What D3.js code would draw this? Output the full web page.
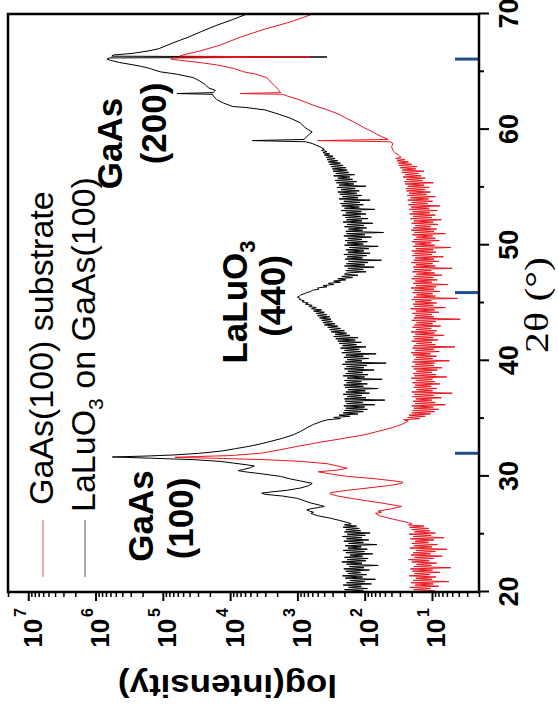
<!DOCTYPE html>
<html><head><meta charset="utf-8">
<script src="https://cdn.jsdelivr.net/npm/d3@7/dist/d3.min.js"></script>
<style>body{margin:0;background:#fff}</style>
</head><body>
<svg id="chart" width="558" height="715"></svg>
<script>
// ---------------- DATA (2θ in degrees, values are log10(intensity)) ----------------
const xMajorTicks = [20, 30, 40, 50, 60, 70];
const xMinorTicks = [25, 35, 45, 55, 65];
const yExponents = [1, 2, 3, 4, 5, 6, 7];
const seriesNames = ["GaAs(100) substrate", "LaLuO3 on GaAs(100)"];
const markerAngles = [32.0, 45.9, 66.1];

// sampling grid of the noisy stretches: start angle of each band, 0.1° step
const bandStep = 0.1;
const bandStarts = { blackA: 20.0, blackB: 34.9, blackC: 43.1, blackD: 47.6, redA: 20.0, redB: 34.9 };

// LaLuO3 on GaAs(100)  (black)
const blackBandA = [2.26,2.02,2.30,1.96,2.24,2.05,2.32,1.90,2.27,2.00,
2.22,1.84,2.29,2.03,2.33,1.97,2.25,2.06,2.28,1.93,
2.31,2.01,2.23,1.80,2.27,2.04,2.34,1.98,2.26,1.95,
2.30,2.03,2.22,1.88,2.28,2.00,2.32,1.96,2.25,2.05,
2.29,1.82,2.24,2.02,2.31,1.94,2.27,2.04,2.33,1.99,
2.26,1.92,2.30,2.06,2.28,2.08,2.32,2.12,2.30];
const blackPeaks1 = [[25.9,2.20],[26.0,2.25],[26.2,2.38],[26.4,2.52],[26.6,2.70],[26.8,2.80],[26.9,2.76],[27.0,2.82],[27.1,2.86],[27.2,2.80],[27.3,2.70],[27.4,2.60],[27.5,2.66],[27.7,2.80],[27.9,2.90],[28.1,3.00],[28.3,3.22],[28.45,3.48],[28.55,3.53],[28.65,3.40],[28.8,3.15],[29.0,2.95],[29.2,2.83],[29.4,2.78],[29.6,2.95],[29.8,3.12],[30.0,3.25],[30.2,3.50],[30.4,3.78],[30.5,3.88],[30.6,3.80],[30.75,3.70],[30.9,3.64],[31.0,3.75],[31.15,3.95],[31.3,4.15],[31.45,4.55],[31.58,5.20],[31.68,5.75],[31.76,5.25],[31.85,4.85],[32.0,4.45],[32.2,4.12],[32.4,3.92],[32.6,3.72],[32.8,3.56],[33.0,3.42],[33.3,3.22],[33.6,3.06],[33.9,2.95],[34.2,2.86],[34.5,2.76],[34.8,2.62]];
const blackBandB = [2.55,2.36,2.46,2.22,2.38,2.10,2.32,2.02,2.30,1.96,
2.28,2.00,2.31,1.85,2.27,2.03,2.29,1.70,2.30,1.98,
2.26,2.04,2.32,1.93,2.28,1.99,2.25,1.80,2.29,2.02,
2.31,1.96,2.27,2.05,2.30,1.74,2.26,2.00,2.32,1.95,
2.28,2.03,2.25,1.86,2.30,2.01,2.27,1.97,2.33,1.68,
2.29,2.04,2.26,1.94,2.31,2.02,2.28,1.83,2.34,2.06,
2.30,2.08,2.36,1.98,2.33,2.12,2.38,2.05,2.40,2.14,
2.43,2.10,2.46,2.22,2.44,2.27,2.50,2.30,2.52,2.36,
2.55,2.40];
const blackBandC = [2.60,2.44,2.62,2.48,2.64,2.50,2.67,2.52,2.70,2.56,
2.72,2.60,2.76,2.64,2.79,2.72,2.83,2.78,2.88,2.84,
2.93,2.90,2.97,2.96,3.00,2.97,2.95,2.90,2.86,2.80,
2.78,2.68,2.70,2.56,2.62,2.46,2.54,2.36,2.46,2.28,
2.40,2.18,2.34,2.10,2.30];
const blackBandD = [2.26,1.98,2.28,2.02,2.25,1.86,2.30,2.00,2.27,1.95,
2.24,1.75,2.29,2.03,2.26,1.97,2.31,1.92,2.25,2.01,
2.28,1.94,2.23,1.80,2.30,2.02,2.26,1.96,2.29,2.04,
2.25,1.90,2.31,2.00,2.27,1.72,2.28,2.03,2.24,1.97,
2.30,2.01,2.26,1.88,2.32,2.04,2.27,1.95,2.29,2.06,
2.33,1.98,2.28,2.05,2.35,1.85,2.30,2.08,2.34,2.02,
2.36,2.07,2.31,1.92,2.38,2.10,2.33,2.04,2.37,2.12,
2.40,2.08,2.35,2.14,2.41,1.98,2.38,2.16,2.42,2.12,
2.44,2.18,2.40,2.22,2.46,2.15,2.43,2.24,2.47,2.26,
2.48,2.28,2.50,2.32,2.52,2.36,2.54,2.40,2.56,2.44,
2.57,2.47,2.60,2.52,2.62,2.56,2.64,2.60];
const blackPeaks2 = [[58.5,2.66],[58.8,2.78],[58.95,2.88],[59.05,3.67],[59.15,2.90],[59.3,2.88],[59.6,2.82],[59.8,2.78],[60.0,2.84],[60.2,2.89],[60.6,2.96],[61.0,3.11],[61.3,3.26],[61.7,3.48],[61.9,3.75],[62.0,3.96],[62.3,4.10],[62.6,4.20],[62.9,4.25],[63.05,4.26],[63.12,4.79],[63.2,4.25],[63.4,4.22],[63.6,4.32],[63.9,4.37],[64.2,4.45],[64.5,4.55],[64.8,4.80],[65.0,5.04],[65.3,5.20],[65.5,5.34],[65.8,5.64],[66.0,5.78],[66.1,5.83],[66.2,5.80],[66.28,2.56],[66.35,5.76],[66.45,5.74],[66.6,5.44],[66.8,5.22],[67.0,5.06],[67.5,4.85],[68.0,4.62],[68.5,4.42],[69.0,4.21],[69.5,3.97],[70.0,3.75]];

// GaAs(100) substrate  (red)
const redBandA = [1.30,0.96,1.27,1.02,1.33,0.90,1.25,0.98,1.31,0.75,
1.28,1.00,1.24,0.94,1.34,1.03,1.26,0.88,1.29,0.99,
1.32,0.72,1.27,1.01,1.23,0.93,1.30,1.04,1.35,0.97,
1.26,0.85,1.31,1.02,1.28,0.95,1.24,0.78,1.33,1.00,
1.27,0.92,1.30,1.05,1.25,0.97,1.32,0.82,1.28,1.01,
1.34,0.95,1.26,1.03,1.30,1.05,1.33,1.12,1.35];
const redPeaks1 = [[25.9,1.30],[26.0,1.35],[26.2,1.50],[26.4,1.65],[26.6,1.78],[26.8,1.84],[26.9,1.75],[27.0,1.80],[27.1,1.70],[27.2,1.60],[27.4,1.45],[27.5,1.55],[27.7,1.75],[27.9,1.98],[28.1,2.20],[28.3,2.40],[28.5,2.52],[28.6,2.50],[28.8,2.25],[29.0,1.95],[29.2,1.65],[29.4,1.45],[29.5,1.43],[29.6,1.55],[29.8,1.85],[30.0,2.25],[30.2,2.50],[30.4,2.69],[30.55,2.40],[30.7,2.26],[30.9,2.40],[31.1,2.56],[31.3,2.95],[31.45,3.50],[31.55,4.10],[31.65,4.82],[31.72,4.50],[31.8,4.00],[32.0,3.55],[32.3,3.26],[32.6,3.00],[32.8,2.81],[33.0,2.62],[33.3,2.30],[33.6,2.00],[33.9,1.80],[34.2,1.60],[34.5,1.45],[34.8,1.35]];
const redBandB = [1.42,1.18,1.36,1.10,1.34,1.02,1.30,0.96,1.29,0.90,
1.27,0.98,1.30,0.80,1.25,0.95,1.28,1.00,1.24,0.86,
1.29,0.97,1.26,0.70,1.30,0.99,1.23,0.93,1.27,1.01,
1.25,0.88,1.29,0.96,1.24,0.99,1.31,0.78,1.26,0.94,
1.28,1.00,1.23,0.92,1.27,0.85,1.30,0.97,1.25,0.96,
1.29,0.74,1.26,0.99,1.24,0.93,1.28,1.02,1.31,0.89,
1.25,0.97,1.29,0.66,1.27,0.95,1.23,1.00,1.30,0.91,
1.26,0.98,1.28,0.82,1.25,0.96,1.31,0.93,1.24,1.01,
1.29,0.87,1.26,0.99,1.23,0.94,1.30,0.58,1.27,0.97,
1.25,1.00,1.29,0.90,1.24,0.96,1.32,0.80,1.26,0.98,
1.28,0.93,1.25,1.01,1.30,0.62,1.27,0.95,1.23,0.99,
1.29,0.88,1.26,0.97,1.31,0.94,1.24,0.76,1.28,1.00,
1.25,0.92,1.30,0.98,1.27,0.85,1.23,0.96,1.29,1.01,
1.26,0.70,1.28,0.95,1.24,0.99,1.31,0.90,1.27,0.97,
1.25,0.83,1.29,1.00,1.26,0.94,1.30,0.98,1.24,0.72,
1.28,0.96,1.25,1.01,1.30,0.89,1.27,0.95,1.23,0.99,
1.29,0.80,1.26,0.97,1.31,0.93,1.28,1.02,1.25,0.91,
1.30,0.98,1.27,0.86,1.32,1.00,1.28,0.95,1.33,1.03,
1.29,0.92,1.34,1.04,1.31,0.88,1.35,1.06,1.30,0.99,
1.36,1.05,1.32,0.95,1.37,1.08,1.34,1.02,1.38,1.10,
1.39,1.04,1.36,1.12,1.40,0.98,1.41,1.14,1.38,1.10,
1.43,1.16,1.40,1.20,1.45,1.12,1.44,1.24,1.47,1.22,
1.49,1.30,1.50,1.35,1.52,1.40,1.54,1.46];
const redPeaks2 = [[57.8,1.50],[58.0,1.55],[58.2,1.58],[58.5,1.60],[58.8,1.58],[58.95,1.62],[59.05,2.70],[59.15,1.65],[59.4,1.75],[59.6,1.82],[59.8,1.88],[60.0,1.95],[60.2,2.02],[60.6,2.14],[61.0,2.28],[61.3,2.37],[61.7,2.55],[62.0,2.71],[62.3,2.85],[62.6,2.98],[62.9,3.15],[63.05,3.22],[63.12,3.85],[63.2,3.25],[63.5,3.29],[63.8,3.34],[64.0,3.38],[64.3,3.42],[64.5,3.46],[64.8,3.62],[65.0,3.80],[65.3,3.95],[65.6,4.20],[65.8,4.45],[66.0,4.75],[66.1,4.88],[66.2,4.85],[66.28,2.81],[66.35,4.75],[66.5,4.67],[66.8,4.45],[67.3,4.15],[68.0,3.85],[68.7,3.48],[69.3,3.11],[70.0,2.77]];

// ---------------- BUILD SERIES ----------------
function band(start, vals){ return vals.map((v,i)=>[+(start + i*bandStep).toFixed(2), v]); }
const blackData = [].concat(band(bandStarts.blackA, blackBandA), blackPeaks1,
  band(bandStarts.blackB, blackBandB), band(bandStarts.blackC, blackBandC),
  band(bandStarts.blackD, blackBandD), blackPeaks2).sort((a,b)=>a[0]-b[0]);
const redData = [].concat(band(bandStarts.redA, redBandA), redPeaks1,
  band(bandStarts.redB, redBandB), redPeaks2).sort((a,b)=>a[0]-b[0]);

// ---------------- CHART ----------------
const W = 578, H = 471;
const FONT = "'Liberation Sans', Arial, Helvetica, sans-serif";
const svg = d3.select('#chart');
// the whole plot is drawn upright, then turned a quarter turn counter-clockwise
const g = svg.append('g').attr('transform', 'translate(8,592) rotate(-90)');

const x = d3.scaleLinear().domain([20, 70]).range([0, W]);
const y = d3.scaleLog().domain([2, 2e7]).range([H, 0]);

g.append('clipPath').attr('id','clip').append('rect').attr('width',W).attr('height',H);

const line = d3.line().x(d => x(d[0])).y(d => y(Math.pow(10, d[1])));
const plot = g.append('g').attr('clip-path','url(#clip)');
plot.append('path').datum(blackData).attr('d', line)
  .attr('fill','none').attr('stroke','#000').attr('stroke-width',1).attr('stroke-linejoin','round');
plot.append('path').datum(redData).attr('d', line)
  .attr('fill','none').attr('stroke','#e8161e').attr('stroke-width',1).attr('stroke-linejoin','round');

// blue markers on the 2θ axis
g.selectAll('.mark').data(markerAngles).join('line').attr('class','mark')
  .attr('x1', d => x(d)).attr('x2', d => x(d))
  .attr('y1', H - 24).attr('y2', H - 1)
  .attr('stroke', '#1e4d8c').attr('stroke-width', 3);

// x axis (2θ)
const xAx = g.append('g').attr('transform', `translate(0,${H})`)
  .call(d3.axisBottom(x).tickValues(xMajorTicks).tickSize(10).tickFormat(d3.format('d')));
xAx.select('.domain').remove();
xAx.selectAll('line').attr('stroke-width', 2);
xAx.selectAll('text').attr('y', 39).attr('dy', 0)
  .attr('font-size', 27).attr('font-weight', 'bold').attr('font-family', FONT).attr('fill', '#000');
const xMin = g.append('g').attr('transform', `translate(0,${H})`)
  .call(d3.axisBottom(x).tickValues(xMinorTicks).tickSize(5).tickFormat(''));
xMin.select('.domain').remove();
xMin.selectAll('line').attr('stroke-width', 2);

// y axis (log intensity)
const yMajorVals = yExponents.map(e => Math.pow(10, e));
const yMinorVals = [];
for (let e = 0; e <= 7; e++) for (let m = 2; m <= 9; m++) {
  const v = m * Math.pow(10, e); if (v >= 2 && v <= 2e7) yMinorVals.push(v);
}
const yAx = g.append('g').call(d3.axisLeft(y).tickValues(yMajorVals).tickSize(9).tickFormat(''));
yAx.select('.domain').remove();
yAx.selectAll('line').attr('stroke-width', 2);
const yMin = g.append('g').call(d3.axisLeft(y).tickValues(yMinorVals).tickSize(5).tickFormat(''));
yMin.select('.domain').remove();
yMin.selectAll('line').attr('stroke-width', 1.5);

const yl = g.append('g').selectAll('text').data(yExponents).join('text')
  .attr('x', -16).attr('y', d => y(Math.pow(10, d)) + 13.5)
  .attr('text-anchor', 'end').attr('font-family', FONT).attr('font-weight', 'bold').attr('fill', '#000');
yl.append('tspan').attr('font-size', 26).text('10');
yl.append('tspan').attr('font-size', 16).attr('dx', 2).attr('dy', -16).text(d => d);

// frame
g.append('rect').attr('x', 0).attr('y', 0).attr('width', W).attr('height', H)
  .attr('fill', 'none').attr('stroke', '#000').attr('stroke-width', 2.5);

// axis titles
g.append('text').attr('x', W / 2 - 2).attr('y', 540).attr('text-anchor', 'middle')
  .attr('font-family', "'Liberation Serif', 'Times New Roman', serif").attr('font-size', 34)
  .attr('textLength', 96).attr('lengthAdjust', 'spacingAndGlyphs').attr('fill', '#000')
  .text('2θ (°)');
g.append('text').attr('transform', 'translate(-83,219.5) rotate(-90)').attr('text-anchor', 'middle')
  .attr('font-family', FONT).attr('font-weight', 'bold').attr('font-size', 32)
  .attr('textLength', 219).attr('lengthAdjust', 'spacingAndGlyphs').attr('fill', '#000')
  .text('log(intensity)');

// legend
const legendColors = ['#ee8a92', '#8c8c8c'];
const legendRows = [35, 77];
legendRows.forEach((ly, i) => {
  g.append('line').attr('x1', 15).attr('x2', 72).attr('y1', ly).attr('y2', ly)
    .attr('stroke', legendColors[i]).attr('stroke-width', 1.5);
});
g.append('text').attr('x', 87).attr('y', 45).attr('font-family', FONT).attr('font-size', 34)
  .attr('fill', '#000').text(seriesNames[0]);
const lg2 = g.append('text').attr('x', 80).attr('y', 87).attr('font-family', FONT).attr('font-size', 34).attr('fill', '#000');
lg2.append('tspan').text('LaLuO');
lg2.append('tspan').attr('font-size', 21).attr('dy', 8).text('3');
lg2.append('tspan').attr('dy', -8).text(' on GaAs(100)');

// peak annotations
function label(cx, by, txt, sub) {
  const t = g.append('text').attr('x', cx).attr('y', by).attr('text-anchor', 'middle')
    .attr('font-family', FONT).attr('font-weight', 'bold').attr('font-size', 35).attr('fill', '#000');
  t.append('tspan').text(txt);
  if (sub) t.append('tspan').attr('font-size', 22).attr('dy', 8).text(sub);
}
label(76, 145, 'GaAs');
label(73.5, 185, '(100)');
label(290, 239, 'LaLuO', '3');
label(296, 277, '(440)');
label(448.5, 114, 'GaAs');
label(468.5, 158, '(200)');
</script>
</body></html>
